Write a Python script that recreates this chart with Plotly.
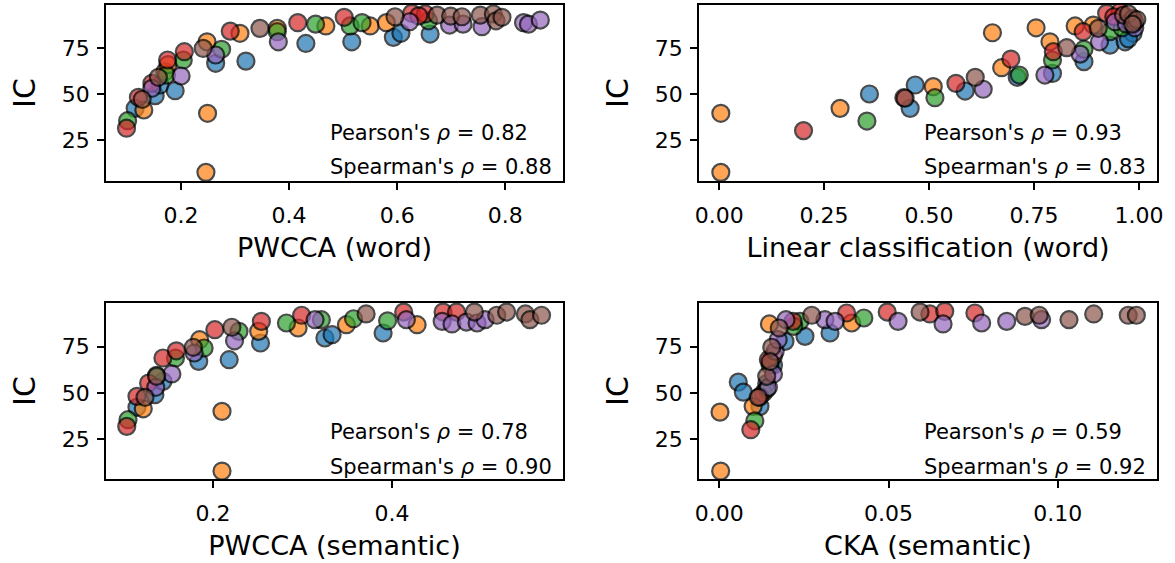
import plotly.graph_objects as go

# ---------------- data ----------------
colors = ["#1f77b4", "#ff7f0e", "#2ca02c", "#d62728", "#9467bd", "#8c564b"]

# Panel 1: PWCCA (word)
p1_blue_x = [0.115, 0.152, 0.161, 0.189, 0.264, 0.320, 0.431, 0.516, 0.593, 0.607, 0.661]
p1_blue_y = [42.2, 49.1, 54.9, 51.8, 66.7, 67.9, 77.5, 78.4, 80.8, 83.0, 82.6]
p1_orange_x = [0.131, 0.170, 0.176, 0.248, 0.249, 0.246, 0.309, 0.378, 0.468, 0.550, 0.580]
p1_orange_y = [41.3, 62.1, 66.0, 78.4, 39.5, 7.4, 83.0, 85.7, 87.0, 87.0, 88.8]
p1_green_x = [0.101, 0.173, 0.204, 0.275, 0.378, 0.449, 0.513, 0.535, 0.658]
p1_green_y = [35.5, 60.3, 68.5, 74.3, 83.9, 88.0, 87.0, 88.8, 89.8]
p1_red_x = [0.099, 0.121, 0.146, 0.175, 0.206, 0.291, 0.416, 0.502, 0.627, 0.652, 0.640]
p1_red_y = [31.4, 48.2, 55.8, 68.5, 73.0, 84.2, 88.8, 91.7, 93.9, 93.5, 92.5]
p1_purple_x = [0.146, 0.200, 0.264, 0.380, 0.623, 0.697, 0.722, 0.757, 0.834, 0.843, 0.865]
p1_purple_y = [53.1, 59.8, 71.2, 78.4, 89.3, 87.5, 88.0, 86.6, 88.8, 88.0, 90.2]
p1_brown_x = [0.128, 0.158, 0.241, 0.346, 0.596, 0.674, 0.699, 0.720, 0.754, 0.778, 0.783, 0.794]
p1_brown_y = [47.1, 59.1, 74.8, 85.7, 92.0, 92.9, 92.4, 92.0, 92.9, 93.5, 89.8, 91.7]

# Panel 2: Linear classification (word)
p2_blue_x = [0.358, 0.455, 0.467, 0.586, 0.710, 0.794, 0.869, 0.931, 0.967, 0.986, 0.975]
p2_blue_y = [50.0, 42.2, 54.9, 51.6, 59.1, 61.2, 67.6, 76.6, 78.4, 83.0, 80.0]
p2_orange_x = [0.004, 0.004, 0.288, 0.510, 0.651, 0.673, 0.755, 0.788, 0.848, 0.891]
p2_orange_y = [39.5, 7.4, 42.2, 54.0, 83.3, 64.3, 86.0, 78.4, 87.0, 87.5]
p2_green_x = [0.352, 0.514, 0.715, 0.794, 0.869, 0.931, 0.960, 0.980]
p2_green_y = [35.3, 48.0, 60.3, 68.5, 74.3, 83.9, 86.0, 88.0]
p2_red_x = [0.201, 0.440, 0.564, 0.695, 0.796, 0.867, 0.923, 0.955, 0.940]
p2_red_y = [30.1, 48.0, 55.8, 69.0, 73.0, 83.9, 93.9, 94.7, 92.0]
p2_purple_x = [0.629, 0.776, 0.860, 0.906, 0.943, 0.970, 0.990]
p2_purple_y = [52.6, 60.3, 71.7, 78.4, 89.3, 88.0, 86.0]
p2_brown_x = [0.443, 0.610, 0.828, 0.903, 0.963, 0.986, 0.990, 0.975, 0.995, 0.985]
p2_brown_y = [47.7, 59.1, 75.2, 85.7, 92.9, 91.1, 89.3, 93.5, 90.5, 88.0]

# Panel 3: PWCCA (semantic)
p3_blue_x = [0.115, 0.135, 0.144, 0.184, 0.218, 0.253, 0.325, 0.333, 0.390]
p3_blue_y = [42.3, 49.1, 56.3, 67.1, 68.0, 77.0, 79.7, 81.5, 82.4]
p3_orange_x = [0.122, 0.185, 0.210, 0.210, 0.251, 0.295, 0.349, 0.428]
p3_orange_y = [41.5, 78.8, 40.1, 7.9, 83.3, 85.1, 86.9, 86.9]
p3_green_x = [0.105, 0.137, 0.158, 0.190, 0.229, 0.282, 0.321, 0.357, 0.395]
p3_green_y = [35.6, 59.6, 68.9, 74.3, 83.3, 87.8, 89.6, 90.1, 89.0]
p3_red_x = [0.1036, 0.115, 0.128, 0.144, 0.159, 0.202, 0.254, 0.299, 0.413, 0.457, 0.472]
p3_red_y = [32.0, 48.2, 55.4, 68.9, 72.8, 84.2, 88.7, 92.0, 93.7, 93.7, 93.7]
p3_purple_x = [0.136, 0.154, 0.179, 0.224, 0.314, 0.416, 0.456, 0.467, 0.483, 0.495, 0.504]
p3_purple_y = [53.1, 60.3, 71.6, 78.2, 89.6, 89.6, 88.7, 87.3, 88.3, 87.8, 89.6]
p3_brown_x = [0.124, 0.137, 0.178, 0.221, 0.371, 0.492, 0.517, 0.528, 0.549, 0.554, 0.567]
p3_brown_y = [47.7, 59.0, 74.7, 85.5, 92.7, 93.7, 92.0, 93.7, 92.7, 89.6, 92.0]

# Panel 4: CKA (semantic)
p4_blue_x = [0.0056, 0.0071, 0.012, 0.0194, 0.0253, 0.0327, 0.016, 0.014]
p4_blue_y = [55.9, 50.5, 42.8, 77.9, 80.6, 82.4, 65.0, 55.0]
p4_orange_x = [0.0002, 0.0004, 0.010, 0.0148, 0.0391, 0.013, 0.016]
p4_orange_y = [39.7, 7.9, 42.8, 87.3, 87.8, 50.0, 70.0]
p4_green_x = [0.0105, 0.0238, 0.0427, 0.015, 0.014, 0.022]
p4_green_y = [35.0, 88.7, 90.5, 65.0, 52.0, 86.0]
p4_red_x = [0.0093, 0.0145, 0.0218, 0.0376, 0.0496, 0.0622, 0.0666, 0.0755, 0.012]
p4_red_y = [30.2, 68.0, 88.7, 93.2, 93.7, 92.7, 94.1, 93.2, 48.0]
p4_purple_x = [0.0145, 0.016, 0.0165, 0.0174, 0.0197, 0.0312, 0.0342, 0.0528, 0.0661, 0.0775, 0.0849, 0.0952]
p4_purple_y = [53.1, 60.3, 72.5, 78.8, 89.6, 89.6, 88.7, 88.7, 87.3, 87.8, 88.7, 89.6]
p4_brown_x = [0.0115, 0.014, 0.0155, 0.0177, 0.0273, 0.0593, 0.0903, 0.0945, 0.1033, 0.1106, 0.1208, 0.1232, 0.015]
p4_brown_y = [47.7, 59.0, 74.7, 85.1, 92.0, 93.7, 91.4, 92.0, 89.6, 92.7, 92.0, 92.0, 67.0]

x_titles = ["PWCCA (word)", "Linear classification (word)", "PWCCA (semantic)", "CKA (semantic)"]
pearson = ["0.82", "0.93", "0.78", "0.59"]
spearman = ["0.88", "0.83", "0.90", "0.92"]
x_tickvals = [[0.2, 0.4, 0.6, 0.8], [0.0, 0.25, 0.5, 0.75, 1.0], [0.2, 0.4], [0.0, 0.05, 0.10]]
x_ticktext = [["0.2", "0.4", "0.6", "0.8"], ["0.00", "0.25", "0.50", "0.75", "1.00"],
              ["0.2", "0.4"], ["0.00", "0.05", "0.10"]]
y_tickvals = [25, 50, 75]

panels = [
    [(p1_blue_x, p1_blue_y), (p1_orange_x, p1_orange_y), (p1_green_x, p1_green_y),
     (p1_red_x, p1_red_y), (p1_purple_x, p1_purple_y), (p1_brown_x, p1_brown_y)],
    [(p2_blue_x, p2_blue_y), (p2_orange_x, p2_orange_y), (p2_green_x, p2_green_y),
     (p2_red_x, p2_red_y), (p2_purple_x, p2_purple_y), (p2_brown_x, p2_brown_y)],
    [(p3_blue_x, p3_blue_y), (p3_orange_x, p3_orange_y), (p3_green_x, p3_green_y),
     (p3_red_x, p3_red_y), (p3_purple_x, p3_purple_y), (p3_brown_x, p3_brown_y)],
    [(p4_blue_x, p4_blue_y), (p4_orange_x, p4_orange_y), (p4_green_x, p4_green_y),
     (p4_red_x, p4_red_y), (p4_purple_x, p4_purple_y), (p4_brown_x, p4_brown_y)],
]

# ---------------- layout ----------------
W, H = 1175, 563
FONT = "DejaVu Sans"
x_ranges = [[0.061, 0.907], [-0.048, 1.043], [0.0804, 0.591], [-0.006, 0.1293]]
y_ranges = [[2.7, 98.4], [2.7, 98.4], [3.6, 98.6], [3.6, 98.6]]
x_domains = [[106 / W, 563 / W], [699 / W, 1157 / W]] * 2
y_domains = [[1 - 181 / H, 1 - 5 / H]] * 2 + [[1 - 479 / H, 1 - 303 / H]] * 2
ann_left = [328, 922, 328, 922]
ann_y = [(133, 167), (133, 167), (432, 467), (432, 467)]

fig = go.Figure()
layout = dict(
    width=W, height=H, margin=dict(l=0, r=0, t=0, b=0),
    paper_bgcolor="white", plot_bgcolor="white", showlegend=False,
    font=dict(family=FONT, color="black"),
)
annotations = []
for i, series in enumerate(panels):
    ax = "" if i == 0 else str(i + 1)
    for (xs, ys), c in zip(series, colors):
        fig.add_trace(go.Scatter(
            x=xs, y=ys, mode="markers", xaxis="x" + ax, yaxis="y" + ax,
            marker=dict(size=17, color=c, opacity=0.7,
                        line=dict(color="black", width=2.2)),
            hoverinfo="x+y",
        ))
    common = dict(showline=True, mirror=True, linecolor="black", linewidth=1.5,
                  ticks="outside", ticklen=7, tickwidth=1.5, tickcolor="black",
                  showgrid=False, zeroline=False, automargin=False,
                  tickfont=dict(size=22, family=FONT, color="black"))
    layout["xaxis" + ax] = dict(
        common, domain=x_domains[i], range=x_ranges[i], anchor="y" + ax,
        tickvals=x_tickvals[i], ticktext=x_ticktext[i], ticklabelstandoff=7,
        title=dict(text=x_titles[i], font=dict(size=27, family=FONT, color="black"), standoff=11),
    )
    layout["yaxis" + ax] = dict(
        common, domain=y_domains[i], range=y_ranges[i], anchor="x" + ax,
        tickvals=y_tickvals, ticktext=[str(v) for v in y_tickvals], ticklabelstandoff=3,
        title=dict(text="IC", font=dict(size=30, family=FONT, color="black"), standoff=17),
    )
    for txt, py in zip([f"Pearson's <i>ρ</i> = {pearson[i]}", f"Spearman's <i>ρ</i> = {spearman[i]}"], ann_y[i]):
        annotations.append(dict(
            text=txt, xref="paper", yref="paper", x=ann_left[i] / W, y=1 - py / H,
            xanchor="left", yanchor="middle", showarrow=False,
            font=dict(size=21, family=FONT, color="black"),
        ))
layout["annotations"] = annotations
fig.update_layout(**layout)
fig.write_html("out.html", config={"displayModeBar": False},
               post_script="document.body.style.margin='0';")
